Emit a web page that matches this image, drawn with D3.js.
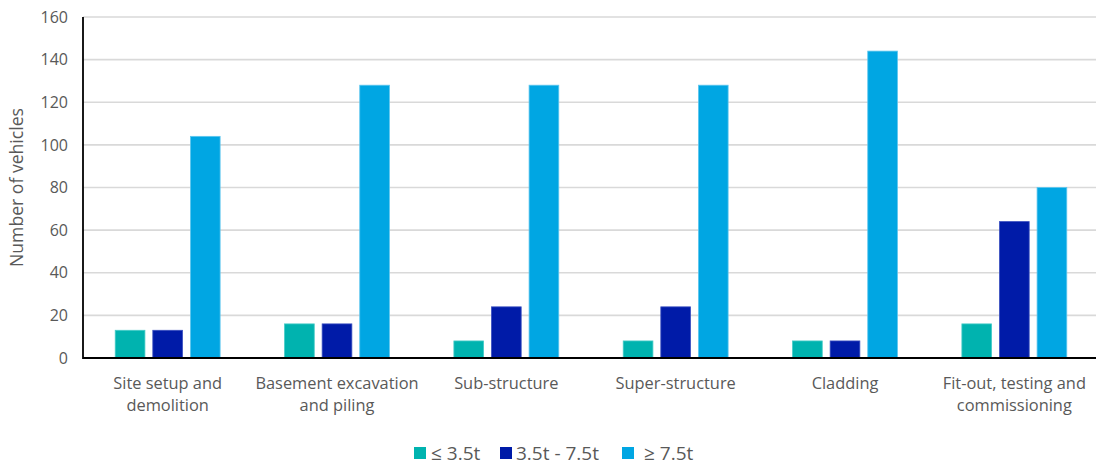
<!DOCTYPE html>
<html>
<head>
<meta charset="utf-8">
<script src="https://cdn.jsdelivr.net/npm/d3@7"></script>
<style>
  html, body { margin: 0; padding: 0; background: #fff; overflow: hidden; }
  svg text { font-family: "Open Sans", Lato, sans-serif; fill: #595959; }
</style>
</head>
<body>
<svg id="chart" width="1096" height="466"></svg>
<script>
// Construction phases and vehicle counts per weight class
const categories = [
  ["Site setup and", "demolition"],
  ["Basement excavation", "and piling"],
  ["Sub-structure"],
  ["Super-structure"],
  ["Cladding"],
  ["Fit-out, testing and", "commissioning"]
];
const seriesNames = ["≤ 3.5t", "3.5t - 7.5t", "≥ 7.5t"];
const lightVehicles  = [13, 16, 8, 8, 8, 16];
const mediumVehicles = [13, 16, 24, 24, 8, 64];
const heavyVehicles  = [104, 128, 128, 128, 144, 80];
const yTicks = [0, 20, 40, 60, 80, 100, 120, 140, 160];
const colors = ["#00B3AF", "#001BA8", "#00A6E3"];
const strokes = ["#45cbc7", "#3a4fc0", "#5ec6ee"];

const series = [lightVehicles, mediumVehicles, heavyVehicles];
// plot area runs slightly past the right edge of the canvas
const margin = { left: 83, right: 1099, top: 17, bottom: 358 };

const svg = d3.select("#chart");

const x = d3.scaleBand()
  .domain(d3.range(categories.length))
  .range([margin.left, margin.right])
  .paddingInner(0).paddingOuter(0);

const bw = 29.7, step = 37.6;
const xInner = d3.scaleLinear().domain([0, 2]).range([-step, step]);

const y = d3.scaleLinear().domain([0, 160]).range([margin.bottom, margin.top]);

// horizontal gridlines
svg.append("g")
  .selectAll("line")
  .data(yTicks.filter(d => d > 0))
  .join("line")
  .attr("x1", margin.left).attr("x2", margin.right)
  .attr("y1", d => y(d)).attr("y2", d => y(d))
  .attr("stroke", "#d9d9d9").attr("stroke-width", 1.6);

// y tick labels
const yAxis = d3.axisLeft(y).tickValues(yTicks).tickSize(0).tickPadding(15);
const gy = svg.append("g").attr("transform", `translate(${margin.left},0)`).call(yAxis);
gy.select(".domain").remove();
gy.selectAll("text").attr("font-size", 16).style("font-family", "'Open Sans', sans-serif").attr("fill", "#595959");

// bars
series.forEach((vals, si) => {
  svg.append("g")
    .selectAll("rect")
    .data(vals)
    .join("rect")
    .attr("x", (d, i) => x(i) + x.bandwidth() / 2 + xInner(si) - bw / 2)
    .attr("y", d => y(d))
    .attr("width", bw)
    .attr("height", d => y(0) - y(d))
    .attr("fill", colors[si])
    .attr("stroke", strokes[si])
    .attr("stroke-width", 0.8);
});

// axis lines
svg.append("line")
  .attr("x1", margin.left).attr("x2", margin.left)
  .attr("y1", y(160)).attr("y2", y(0) + 1)
  .attr("stroke", "#000").attr("stroke-width", 1.8);
svg.append("line")
  .attr("x1", margin.left).attr("x2", margin.right)
  .attr("y1", y(0)).attr("y2", y(0))
  .attr("stroke", "#000").attr("stroke-width", 1.8);

// category labels
const cat = svg.append("g");
categories.forEach((lines, i) => {
  const cx = x(i) + x.bandwidth() / 2;
  const t = cat.append("text")
    .attr("x", cx)
    .attr("y", 389)
    .attr("text-anchor", "middle")
    .attr("font-size", 16.4);
  lines.forEach((ln, j) => {
    t.append("tspan").attr("x", cx).attr("dy", j === 0 ? 0 : 22).text(ln);
  });
});

// y axis title
svg.append("text")
  .attr("transform", `translate(23,${(margin.top + margin.bottom) / 2}) rotate(-90)`)
  .attr("text-anchor", "middle")
  .attr("font-size", 17.6)
  .text("Number of vehicles");

// legend
const legendX = [414, 500, 622];
const legendTextX = [431, 516, 644];
const legend = svg.append("g");
seriesNames.forEach((name, i) => {
  legend.append("rect")
    .attr("x", legendX[i]).attr("y", 447)
    .attr("width", 12).attr("height", 12)
    .attr("fill", colors[i]);
  legend.append("text")
    .attr("x", legendTextX[i]).attr("y", 460)
    .attr("font-size", 19)
    .text(name);
});
</script>
</body>
</html>
